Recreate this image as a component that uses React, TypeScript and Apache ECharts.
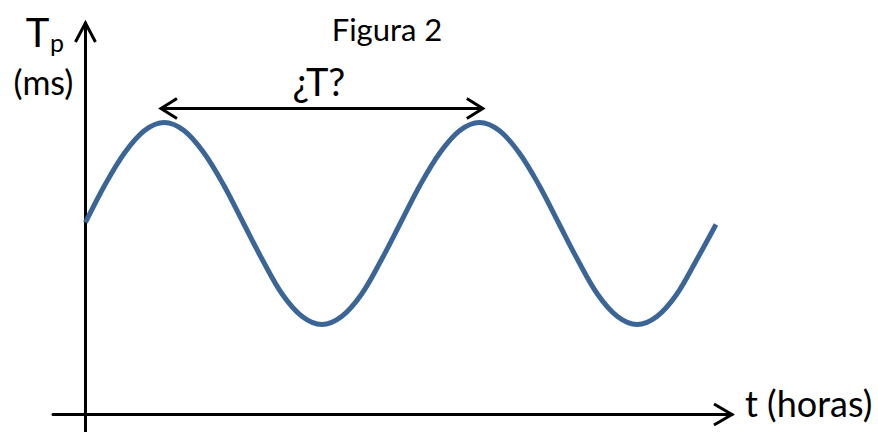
import React, { useEffect, useRef } from "react";
import * as echarts from "echarts";

// Time (hours) and pulse period Tp (ms)
const hours = [
  0, 1.5, 3, 4.5, 6, 7.5, 9, 10.5, 12, 13.5, 15, 16.5, 18, 19.5, 21, 22.5,
  24, 25.5, 27, 28.5, 30, 31.5, 33, 34.5, 36, 37.5, 39, 40.5, 42, 43.5, 45, 46.5, 48,
];
const tpValues = [
  9.6, 11.5, 13.1, 14.2, 14.6, 14.2, 13.1, 11.5, 9.6, 7.7, 6.0, 4.9, 4.5, 4.9, 6.0, 7.7,
  9.6, 11.5, 13.1, 14.2, 14.6, 14.2, 13.1, 11.5, 9.6, 7.7, 6.0, 4.9, 4.5, 4.9, 6.0, 7.7, 9.5,
];

// Axis extents
const xMin = -2.47;
const xMax = 49.22;
const yMin = -0.875;
const yMax = 19.575;

// Period annotation (from peak to peak)
const periodStart = 5.75;
const periodEnd = 30.25;
const periodLevel = 15.3;

// Texts
const titleText = "Figura 2";
const yNameMain = "T";
const yNameSub = "p";
const yUnit = "(ms)";
const xName = "t (horas)";
const periodLabel = "¿T?";

const FONT = "Lato, 'Open Sans', sans-serif";

export default function App() {
  const ref = useRef<HTMLDivElement>(null);

  useEffect(() => {
    if (!ref.current) return;
    const chart = echarts.init(ref.current, null, { renderer: "svg" });
    chart.setOption({
      animation: false,
      backgroundColor: "#ffffff",
      grid: { left: 53, right: 146, top: 23, bottom: 0 },
      xAxis: {
        type: "value",
        min: xMin,
        max: xMax,
        axisLine: { show: true, onZero: true, lineStyle: { color: "#000", width: 3 } },
        axisTick: { show: false },
        axisLabel: { show: false },
        splitLine: { show: false },
      },
      yAxis: {
        type: "value",
        min: yMin,
        max: yMax,
        axisLine: { show: true, onZero: true, lineStyle: { color: "#000", width: 3 } },
        axisTick: { show: false },
        axisLabel: { show: false },
        splitLine: { show: false },
      },
      series: [
        {
          type: "line",
          data: hours.map((h, i) => [h, tpValues[i]]),
          smooth: 0.35,
          showSymbol: false,
          lineStyle: { color: "#3B6596", width: 5 },
          z: 3,
        },
      ],
    });

    const px = (x: number, y: number) =>
      chart.convertToPixel({ gridIndex: 0 }, [x, y]) as number[];

    const yTop = px(0, yMax);
    const xRight = px(xMax, 0);
    const aL = px(periodStart, periodLevel);
    const aR = px(periodEnd, periodLevel);
    const labelPos = px((periodStart + periodEnd) / 2, periodLevel);

    const stroke = { stroke: "#000", lineWidth: 3, fill: "none" };

    chart.setOption({
      graphic: [
        {
          type: "polyline",
          shape: {
            points: [
              [yTop[0] - 10, yTop[1] + 19],
              [yTop[0], yTop[1]],
              [yTop[0] + 10, yTop[1] + 19],
            ],
          },
          style: stroke,
        },
        {
          type: "polyline",
          shape: {
            points: [
              [xRight[0] - 18, xRight[1] - 10.5],
              [xRight[0], xRight[1]],
              [xRight[0] - 18, xRight[1] + 10.5],
            ],
          },
          style: stroke,
        },
        {
          type: "line",
          shape: { x1: aL[0] + 1, y1: aL[1], x2: aR[0] - 1, y2: aR[1] },
          style: { stroke: "#000", lineWidth: 3 },
        },
        {
          type: "polyline",
          shape: {
            points: [
              [aL[0] + 16, aL[1] - 10],
              [aL[0], aL[1]],
              [aL[0] + 16, aL[1] + 10],
            ],
          },
          style: stroke,
        },
        {
          type: "polyline",
          shape: {
            points: [
              [aR[0] - 16, aR[1] - 10],
              [aR[0], aR[1]],
              [aR[0] - 16, aR[1] + 10],
            ],
          },
          style: stroke,
        },
        {
          type: "text",
          x: labelPos[0] - 3,
          y: labelPos[1] - 28,
          style: {
            text: periodLabel,
            font: `38px ${FONT}`,
            fill: "#000",
            align: "center",
            verticalAlign: "middle",
          },
        },
        {
          type: "text",
          x: 387,
          y: 29,
          style: {
            text: titleText,
            font: `31px ${FONT}`,
            fill: "#000",
            align: "center",
            verticalAlign: "middle",
          },
        },
        {
          type: "text",
          x: 37.5,
          y: 32,
          style: {
            text: yNameMain,
            font: `40px ${FONT}`,
            fill: "#000",
            align: "center",
            verticalAlign: "middle",
          },
        },
        {
          type: "text",
          x: 57,
          y: 42,
          style: {
            text: yNameSub,
            font: `25px ${FONT}`,
            fill: "#000",
            align: "center",
            verticalAlign: "middle",
          },
        },
        {
          type: "text",
          x: 43.5,
          y: 81,
          style: {
            text: yUnit,
            font: `34px ${FONT}`,
            fill: "#000",
            align: "center",
            verticalAlign: "middle",
          },
        },
        {
          type: "text",
          x: 745,
          y: 403,
          style: {
            text: xName,
            font: `36px ${FONT}`,
            fill: "#000",
            align: "left",
            verticalAlign: "middle",
          },
        },
      ],
    });

    return () => chart.dispose();
  }, []);

  return (
    <div
      ref={ref}
      style={{ position: "fixed", left: 0, top: 0, width: 878, height: 432 }}
    />
  );
}
